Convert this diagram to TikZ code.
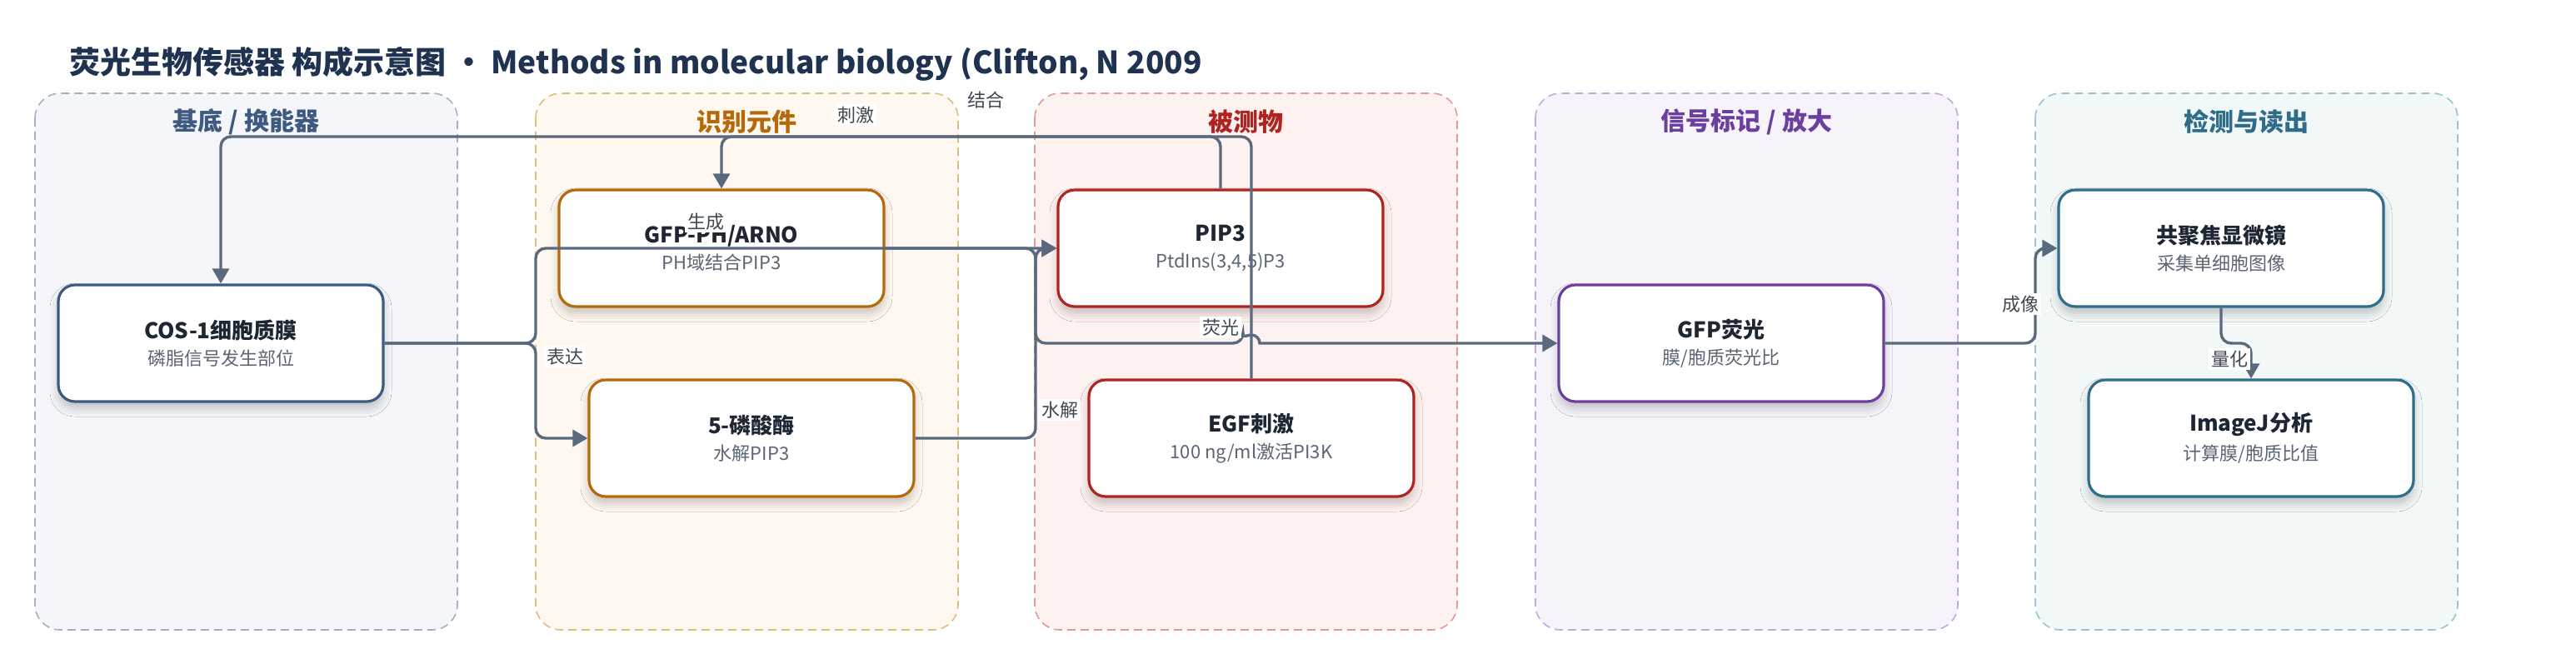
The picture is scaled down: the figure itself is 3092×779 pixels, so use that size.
\documentclass[tikz,border=0pt]{standalone}
\usepackage{fontspec}
\setmainfont{Noto Sans CJK SC}
\usetikzlibrary{arrows.meta,shadows.blur}

% lane colours: fill, dashed border, heading / box border
\definecolor{fill-base}{HTML}{F4F6FA}
\definecolor{line-base}{HTML}{A3B1C6}
\definecolor{head-base}{HTML}{3F5A80}
\definecolor{fill-recog}{HTML}{FEF8F0}
\definecolor{line-recog}{HTML}{E2BC7E}
\definecolor{head-recog}{HTML}{B5690A}
\definecolor{fill-analyte}{HTML}{FEF2F1}
\definecolor{line-analyte}{HTML}{E29A96}
\definecolor{head-analyte}{HTML}{B0241F}
\definecolor{fill-signal}{HTML}{F7F3FB}
\definecolor{line-signal}{HTML}{C3A9DD}
\definecolor{head-signal}{HTML}{6B3FA0}
\definecolor{fill-detect}{HTML}{F2F7F8}
\definecolor{line-detect}{HTML}{9CC3D2}
\definecolor{head-detect}{HTML}{2F6D8A}
\definecolor{titleC}{HTML}{1F3350}
\definecolor{nameC}{HTML}{1F2633}
\definecolor{subC}{HTML}{5B6573}
\definecolor{flowC}{HTML}{5A6A7E}
\definecolor{lblC}{HTML}{404854}

\newcommand{\boxtext}[2]{{\bfseries\fontsize{13}{16}\selectfont #1}\\[4pt]{\fontsize{11}{13}\selectfont\color{subC}#2}}

\begin{document}
\begin{tikzpicture}[x=0.5pt,y=-0.5pt,
  lane/.style={draw=line-#1, fill=fill-#1, line width=0.8pt, dash pattern=on 5pt off 3pt, rounded corners=15pt},
  lanehead/.style={font=\bfseries\fontsize{15}{18}\selectfont, text=head-#1},
  box/.style={draw=head-#1, line width=1.6pt, fill=white, rounded corners=10pt,
    minimum width=195pt, minimum height=70pt, align=center, text=nameC,
    blur shadow={shadow xshift=0pt, shadow yshift=-4pt, shadow blur radius=5pt, shadow opacity=22}},
  flow/.style={draw=flowC, line width=1.7pt, rounded corners=6pt, -{Triangle[length=9pt,width=10pt]}},
  lbl/.style={fill=white, inner sep=1.5pt, text=lblC, font=\fontsize{11}{13}\selectfont}]
  \useasboundingbox (0,0) rectangle (3092,779);
  \fill[white] (0,0) rectangle (3092,779);

  \pgfmathsetmacro{\lanew}{507}
  \pgfmathsetmacro{\laneh}{644}
  % the five columns
  \foreach \lx/\lc/\lt in {42/base/{基底 / 换能器}, 643/recog/{识别元件}, 1242/analyte/{被测物}, 1843/signal/{信号标记 / 放大}, 2443/detect/{检测与读出}}
  {
    \draw[lane=\lc] (\lx,112) rectangle ++(\lanew,\laneh);
    \node[lanehead=\lc] at (\lx+\lanew/2,146) {\lt};
  };

  \node[anchor=west, text=titleC, font=\bfseries\fontsize{18.5}{22}\selectfont] (title) at (76,77)
    {荧光生物传感器 构成示意图 • Methods in molecular biology (Clifton, N 2009};

  % boxes
  \node[box=base] (cos) at (265,412) {\boxtext{COS-1细胞质膜}{磷脂信号发生部位}};
  \node[box=recog] (ph) at (866,298) {\boxtext{GFP-PH/ARNO}{PH域结合PIP3}};
  \node[box=recog] (phos) at (902,526) {\boxtext{5-磷酸酶}{水解PIP3}};
  \node[box=analyte] (pip3) at (1465,298) {\boxtext{PIP3}{PtdIns(3,4,5)P3}};
  \node[box=analyte] (egf) at (1502,526) {\boxtext{EGF刺激}{100 ng/ml激活PI3K}};
  \node[box=signal] (gfp) at (2066,412) {\boxtext{GFP荧光}{膜/胞质荧光比}};
  \node[box=detect] (conf) at (2666,298) {\boxtext{共聚焦显微镜}{采集单细胞图像}};
  \node[box=detect] (imgj) at (2702,526) {\boxtext{ImageJ分析}{计算膜/胞质比值}};

  % routing helpers
  \coordinate (topy) at (0,164);
  \coordinate (laneB) at (643,0);
  \coordinate (laneC) at (1243,0);
  \coordinate (laneE) at (2443,0);
  \coordinate (hop) at (egf.north |- gfp.west);

  % connectors
  \draw[flow] (egf.north) -- (egf.north |- topy) -- (cos.north |- topy) -- (cos.north);
  \draw[flow] (pip3.north) -- (pip3.north |- topy) -- (ph.north |- topy) -- (ph.north);
  \draw[flow] (cos.east) -- (cos.east -| laneB) |- (pip3.west);
  \draw[flow] (cos.east) -- (cos.east -| laneB) |- (phos.west);
  \draw[flow] (phos.east) -- (phos.east -| laneC) |- (pip3.west);
  \draw[flow] (ph.east) -- (ph.east -| laneC) -- (laneC |- gfp.west) -- ([xshift=-5pt]hop)
    [sharp corners] arc[start angle=180, end angle=0, radius=5pt] -- (gfp.west);
  \draw[flow] (gfp.east) -- (gfp.east -| laneE) |- (conf.west);
  \draw[flow] (conf.south) -- (conf.south |- gfp.west) -| (imgj.north);

  % connector labels
  \node[lbl] (lGen) at (847,266) {生成};
  \node[lbl] (lStim) at (1027,138) {刺激};
  \node[lbl] (lBind) at (1183,120) {结合};
  \node[lbl] (lExpr) at (678,428) {表达};
  \node[lbl] (lHydro) at (1272,492) {水解};
  \node[lbl] (lFluo) at (1465,393) {荧光};
  \node[lbl] (lImg) at (2425,365) {成像};
  \node[lbl] (lQuant) at (2676,431) {量化};
\end{tikzpicture}
\end{document}
